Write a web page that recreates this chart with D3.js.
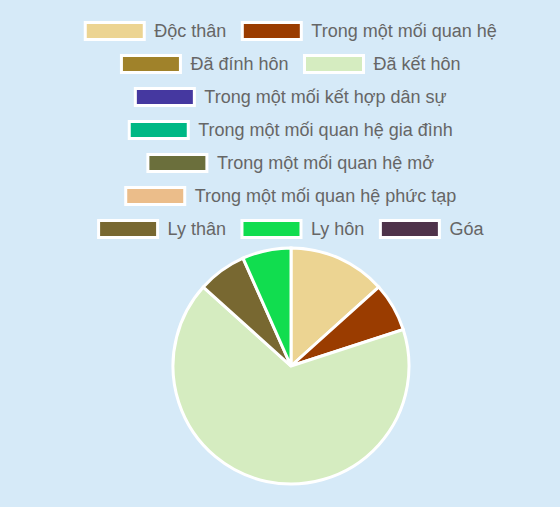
<!DOCTYPE html>
<html>
<head>
<meta charset="utf-8">
<script src="https://cdn.jsdelivr.net/npm/d3@7"></script>
<style>
  html, body { margin: 0; padding: 0; background: #d6eaf8; }
  svg { display: block; }
</style>
</head>
<body>
<div id="chart"></div>
<script>
const categories = ["Độc thân", "Trong một mối quan hệ", "Đã đính hôn", "Đã kết hôn",
  "Trong một mối kết hợp dân sự", "Trong một mối quan hệ gia đình", "Trong một mối quan hệ mở",
  "Trong một mối quan hệ phức tạp", "Ly thân", "Ly hôn", "Góa"];
const values = [2, 1, 0, 10, 0, 0, 0, 0, 1, 1, 0];
const colors = ["#ecd492", "#9a3c00", "#a0822a", "#d5ecc0", "#4538a0", "#00b884",
  "#6b6f3c", "#ebbd8a", "#786831", "#11dd4f", "#4e3249"];
// legend rows, as the picture wraps them
const legendRows = [[0, 1], [2, 3], [4], [5], [6], [7], [8, 9, 10]];

const width = 560, height = 507;
const svg = d3.select("#chart").append("svg")
  .attr("width", width)
  .attr("height", height);

svg.append("rect").attr("width", width).attr("height", height).attr("fill", "#d6eaf8");

// legend and pie share the same centre line
const cx = 291, cy = 366, radius = 118;

// legend
const boxW = 59, boxH = 17, rowH = 33, firstRowY = 31, textGap = 10, itemGap = 16;
const legend = svg.append("g");
legendRows.forEach((row, r) => {
  const g = legend.append("g");
  let x = 0;
  row.forEach(i => {
    const item = g.append("g").attr("transform", `translate(${x},0)`);
    item.append("rect")
      .attr("x", 0).attr("y", -boxH / 2)
      .attr("width", boxW).attr("height", boxH)
      .attr("fill", colors[i])
      .attr("stroke", "#fff")
      .attr("stroke-width", 3);
    const t = item.append("text")
      .attr("x", boxW + textGap).attr("y", 0)
      .attr("dy", "0.35em")
      .attr("font-family", "'Liberation Sans', Arial, sans-serif")
      .attr("font-size", 18)
      .attr("fill", "#666")
      .text(categories[i]);
    x += boxW + textGap + t.node().getComputedTextLength() + itemGap;
  });
  const total = x - itemGap;
  g.attr("transform", `translate(${cx - total / 2},${firstRowY + r * rowH})`);
});

// pie
const pie = d3.pie().sort(null).value(d => d.value);
const arc = d3.arc().innerRadius(0).outerRadius(radius);
const data = categories.map((c, i) => ({ name: c, value: values[i], color: colors[i] }));

svg.append("g")
  .attr("transform", `translate(${cx},${cy})`)
  .selectAll("path")
  .data(pie(data).filter(d => d.data.value > 0))
  .join("path")
  .attr("d", arc)
  .attr("fill", d => d.data.color)
  .attr("stroke", "#fff")
  .attr("stroke-width", 3);
</script>
</body>
</html>
